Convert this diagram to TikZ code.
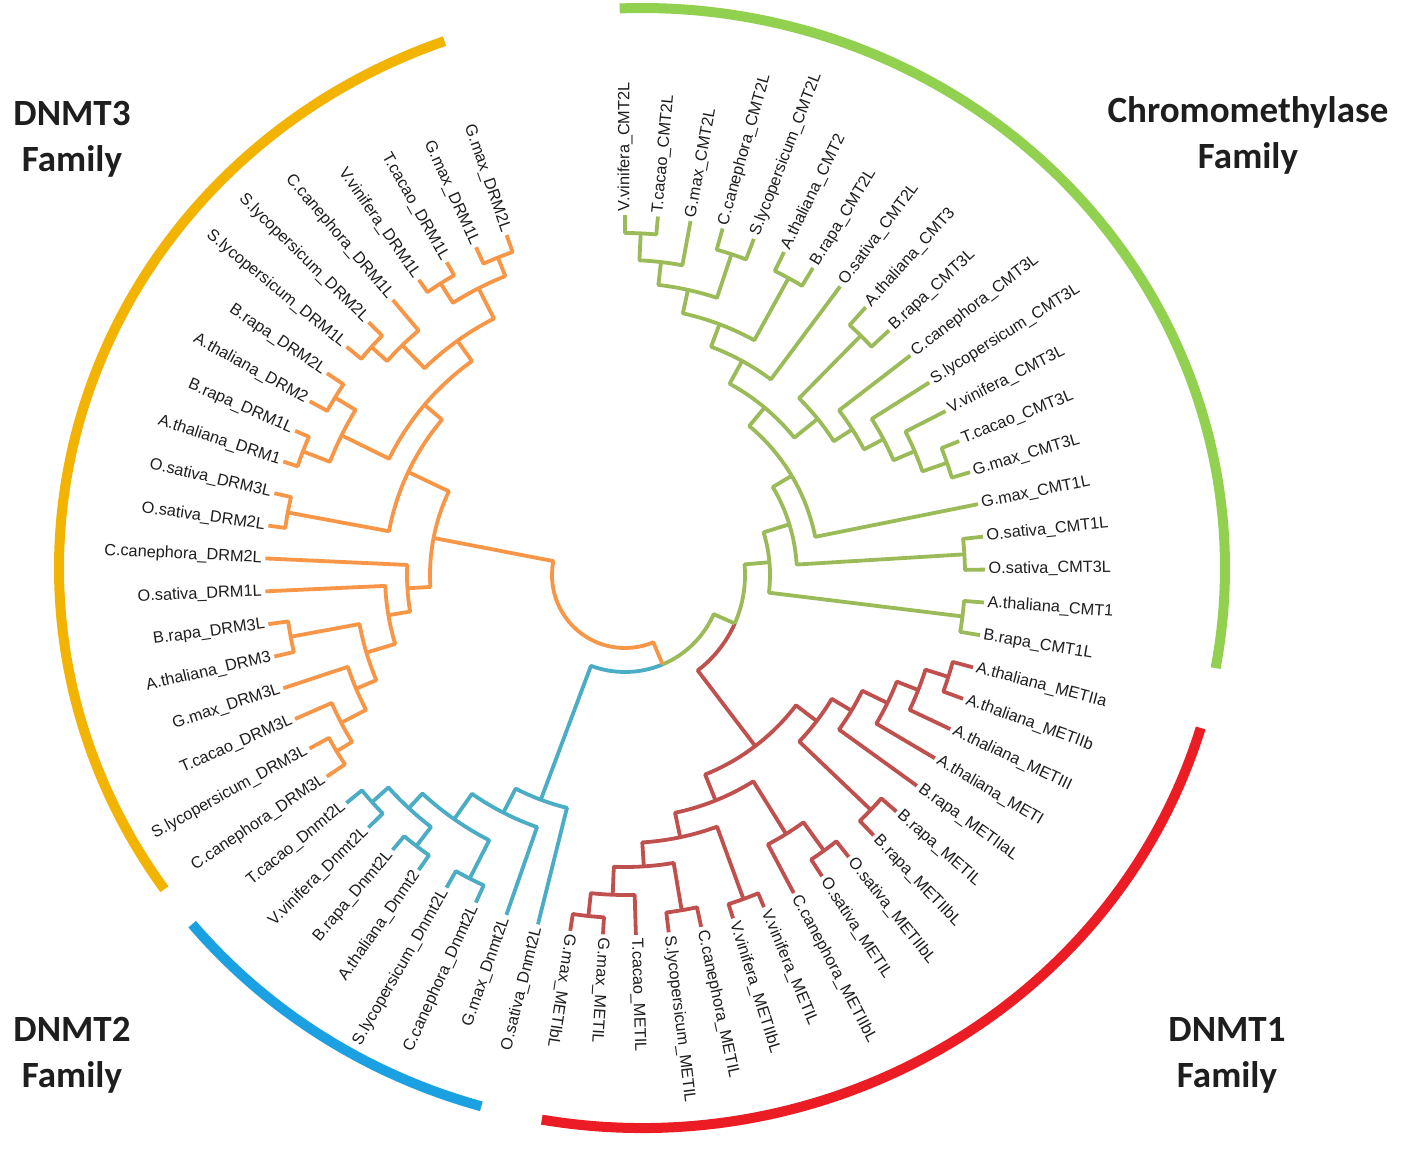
\documentclass[tikz,border=0pt]{standalone}
\usepackage{fontspec}
\setmainfont{Liberation Sans}
\newfontfamily\titlefont{Carlito}
\definecolor{tO}{HTML}{F79646}
\definecolor{tB}{HTML}{4BACC6}
\definecolor{tR}{HTML}{C0504D}
\definecolor{tG}{HTML}{9BBB59}
\definecolor{aY}{RGB}{242,180,0}
\definecolor{aG}{RGB}{146,208,80}
\definecolor{aR}{RGB}{236,28,36}
\definecolor{aB}{RGB}{27,161,226}
\definecolor{txt}{RGB}{30,30,30}
\newcommand\nodeA[1]{\csname nA#1\endcsname}
\newcommand\nodeR[1]{\csname nR#1\endcsname}
\newcommand\cl[5]{%
  \edef\cla{\nodeA{#2}}\edef\clb{\nodeA{#3}}%
  \edef\clra{\nodeR{#2}}\edef\clrb{\nodeR{#3}}%
  \draw[br,#5] (\cla:\clra pt) -- (\cla:#4pt) arc[start angle=\cla, end angle=\clb, radius=#4pt] -- (\clb:\clrb pt);%
  \pgfmathsetmacro\clm{(\cla+\clb)/2}%
  \expandafter\xdef\csname nA#1\endcsname{\clm}%
  \expandafter\xdef\csname nR#1\endcsname{#4}%
}
\newcommand\clsplit[6]{%
  \edef\cla{\nodeA{#2}}\edef\clb{\nodeA{#3}}%
  \edef\clra{\nodeR{#2}}\edef\clrb{\nodeR{#3}}%
  \pgfmathsetmacro\clm{(\cla+\clb)/2}%
  \draw[br,#5] (\cla:\clra pt) -- (\cla:#4pt) arc[start angle=\cla, end angle=\clm, radius=#4pt];%
  \draw[br,#6] (\clm:#4pt) arc[start angle=\clm, end angle=\clb, radius=#4pt] -- (\clb:\clrb pt);%
  \expandafter\xdef\csname nA#1\endcsname{\clm}%
  \expandafter\xdef\csname nR#1\endcsname{#4}%
}
\newcommand\lbl[2]{%
  \pgfmathsetmacro\la{109.2+5.243*#1}%
  \pgfmathtruncatemacro\lside{and(\la>100,\la<258)}%
  \ifnum\lside=1
    \node[lab,anchor=east,rotate=\la-180] (l#1) at (\la:362pt) {#2};%
  \else
    \node[lab,anchor=west,rotate=\la] (l#1) at (\la:362pt) {#2};%
  \fi}
\begin{document}
\begin{tikzpicture}[x=1pt,y=1pt,
  br/.style={line width=3.8pt,line join=round},
  fam/.style={line width=10pt,line cap=butt},
  lab/.style={font=\fontsize{16.3}{19}\selectfont,text=txt,inner sep=1.5pt},
  famtitle/.style={font=\titlefont\bfseries\fontsize{37}{46}\selectfont,align=center,text=txt}]
\fill[white] (0,0) rectangle (1410,-1155);
\useasboundingbox (0,0) rectangle (1410,-1155);
% family arcs
\coordinate (ec) at (642,-568);
\draw[fam,aY] (ec) ++(109.8:583pt and 560pt) arc[start angle=109.8,end angle=215,x radius=583pt,y radius=560pt];
\draw[fam,aG] (ec) ++(92.2:583pt and 560pt) arc[start angle=92.2,end angle=-10.3,x radius=583pt,y radius=560pt];
\draw[fam,aR] (ec) ++(-16.6:583pt and 560pt) arc[start angle=-16.6,end angle=-99.9,x radius=583pt,y radius=560pt];
\draw[fam,aB] (ec) ++(219.5:583pt and 560pt) arc[start angle=219.5,end angle=254,x radius=583pt,y radius=560pt];
% titles
\node[famtitle] (t3) at (72,-139) {DNMT3\\Family};
\node[famtitle] (tc) at (1248,-135) {Chromomethylase\\Family};
\node[famtitle] (t2) at (72,-1055) {DNMT2\\Family};
\node[famtitle] (t1) at (1227,-1055) {DNMT1\\Family};
\begin{scope}[shift={(625,-575)}]
\foreach \i in {0,...,65}{\pgfmathsetmacro\la{109.2+5.243*\i}\expandafter\xdef\csname nA\i\endcsname{\la}\expandafter\xdef\csname nR\i\endcsname{360}}
% orange
\cl{o01}{0}{1}{342}{tO}
\cl{o23}{2}{3}{345}{tO}
\cl{oC}{o01}{o23}{322}{tO}
\cl{o56}{5}{6}{341}{tO}
\cl{o456}{4}{o56}{320}{tO}
\cl{oF}{oC}{o456}{288}{tO}
\cl{o78}{7}{8}{340}{tO}
\cl{o910}{9}{10}{345}{tO}
\cl{oI}{o78}{o910}{316}{tO}
\cl{oJ}{oF}{oI}{263}{tO}
\cl{o1112}{11}{12}{343}{tO}
\cl{oL}{oJ}{o1112}{240}{tO}
\cl{o1920}{19}{20}{338}{tO}
\cl{oN}{18}{o1920}{320}{tO}
\cl{oO}{17}{oN}{292}{tO}
\cl{o1516}{15}{16}{340}{tO}
\cl{oQ}{o1516}{oO}{270}{tO}
\cl{oR}{14}{oQ}{240}{tO}
\cl{oS}{13}{oR}{218}{tO}
\cl{oT}{oL}{oS}{195}{tO}
% blue
\cl{b1}{21}{22}{340}{tB}
\cl{b2}{23}{24}{342}{tB}
\cl{b3}{b1}{b2}{318}{tB}
\cl{b4}{25}{26}{341}{tB}
\cl{b5}{b3}{b4}{298}{tB}
\cl{b6}{b5}{27}{267}{tB}
\cl{b7}{b6}{28}{240}{tB}
% red
\cl{r1}{29}{30}{343}{tR}
\cl{r2}{r1}{31}{320}{tR}
\cl{r3}{32}{33}{340}{tR}
\cl{r4}{r2}{r3}{292}{tR}
\cl{r5}{34}{35}{345}{tR}
\cl{r6}{r4}{r5}{268}{tR}
\cl{r7}{37}{38}{340}{tR}
\cl{r8}{36}{r7}{305}{tR}
\cl{r9}{r6}{r8}{243}{tR}
\cl{r10}{44}{45}{339}{tR}
\cl{r11}{43}{r10}{315}{tR}
\cl{r12}{42}{r11}{292}{tR}
\cl{r13}{41}{r12}{264}{tR}
\cl{r14}{39}{40}{340}{tR}
\cl{r15}{r14}{r13}{241}{tR}
\cl{r16}{r9}{r15}{215}{tR}
% green
\cl{g1}{46}{47}{340}{tG}
\cl{g2}{48}{49}{340}{tG}
\cl{d1}{51}{52}{341}{tG}
\cl{d2}{d1}{53}{315}{tG}
\cl{d3}{d2}{54}{292}{tG}
\cl{d4}{d3}{55}{270}{tG}
\cl{d5}{56}{57}{336}{tG}
\cl{d6}{d4}{d5}{248}{tG}
\cl{c1}{64}{65}{342}{tG}
\cl{c2}{63}{c1}{315}{tG}
\cl{c3}{61}{62}{338}{tG}
\cl{c4}{c3}{c2}{292}{tG}
\cl{c5}{59}{60}{339}{tG}
\cl{c6}{c5}{c4}{268}{tG}
\cl{c7}{58}{c6}{244}{tG}
\cl{g3}{d6}{c7}{218}{tG}
\cl{g4}{50}{g3}{194}{tG}
\cl{g5}{g2}{g4}{172}{tG}
\cl{g6}{g1}{g5}{145}{tG}
% root
\clsplit{rg}{r16}{g6}{120}{tR}{tG}
\clsplit{xx}{b7}{rg}{97}{tB}{tG}
\cl{root}{oT}{xx}{73}{tO}
% labels
\lbl{0}{G.max\_DRM2L}
\lbl{1}{G.max\_DRM1L}
\lbl{2}{T.cacao\_DRM1L}
\lbl{3}{V.vinifera\_DRM1L}
\lbl{4}{C.canephora\_DRM1L}
\lbl{5}{S.lycopersicum\_DRM2L}
\lbl{6}{S.lycopersicum\_DRM1L}
\lbl{7}{B.rapa\_DRM2L}
\lbl{8}{A.thaliana\_DRM2}
\lbl{9}{B.rapa\_DRM1L}
\lbl{10}{A.thaliana\_DRM1}
\lbl{11}{O.sativa\_DRM3L}
\lbl{12}{O.sativa\_DRM2L}
\lbl{13}{C.canephora\_DRM2L}
\lbl{14}{O.sativa\_DRM1L}
\lbl{15}{B.rapa\_DRM3L}
\lbl{16}{A.thaliana\_DRM3}
\lbl{17}{G.max\_DRM3L}
\lbl{18}{T.cacao\_DRM3L}
\lbl{19}{S.lycopersicum\_DRM3L}
\lbl{20}{C.canephora\_DRM3L}
\lbl{21}{T.cacao\_Dnmt2L}
\lbl{22}{V.vinifera\_Dnmt2L}
\lbl{23}{B.rapa\_Dnmt2L}
\lbl{24}{A.thaliana\_Dnmt2}
\lbl{25}{S.lycopersicum\_Dnmt2L}
\lbl{26}{C.canephora\_Dnmt2L}
\lbl{27}{G.max\_Dnmt2L}
\lbl{28}{O.sativa\_Dnmt2L}
\lbl{29}{G.max\_METIbL}
\lbl{30}{G.max\_METIL}
\lbl{31}{T.cacao\_METIL}
\lbl{32}{S.lycopersicum\_METIL}
\lbl{33}{C.canephora\_METIL}
\lbl{34}{V.vinifera\_METIIbL}
\lbl{35}{V.vinifera\_METIL}
\lbl{36}{C.canephora\_METIIbL}
\lbl{37}{O.sativa\_METIL}
\lbl{38}{O.sativa\_METIIbL}
\lbl{39}{B.rapa\_METIIbL}
\lbl{40}{B.rapa\_METIL}
\lbl{41}{B.rapa\_METIIaL}
\lbl{42}{A.thaliana\_METI}
\lbl{43}{A.thaliana\_METIII}
\lbl{44}{A.thaliana\_METIIb}
\lbl{45}{A.thaliana\_METIIa}
\lbl{46}{B.rapa\_CMT1L}
\lbl{47}{A.thaliana\_CMT1}
\lbl{48}{O.sativa\_CMT3L}
\lbl{49}{O.sativa\_CMT1L}
\lbl{50}{G.max\_CMT1L}
\lbl{51}{G.max\_CMT3L}
\lbl{52}{T.cacao\_CMT3L}
\lbl{53}{V.vinifera\_CMT3L}
\lbl{54}{S.lycopersicum\_CMT3L}
\lbl{55}{C.canephora\_CMT3L}
\lbl{56}{B.rapa\_CMT3L}
\lbl{57}{A.thaliana\_CMT3}
\lbl{58}{O.sativa\_CMT2L}
\lbl{59}{B.rapa\_CMT2L}
\lbl{60}{A.thaliana\_CMT2}
\lbl{61}{S.lycopersicum\_CMT2L}
\lbl{62}{C.canephora\_CMT2L}
\lbl{63}{G.max\_CMT2L}
\lbl{64}{T.cacao\_CMT2L}
\lbl{65}{V.vinifera\_CMT2L}
\end{scope}
\end{tikzpicture}
\end{document}
